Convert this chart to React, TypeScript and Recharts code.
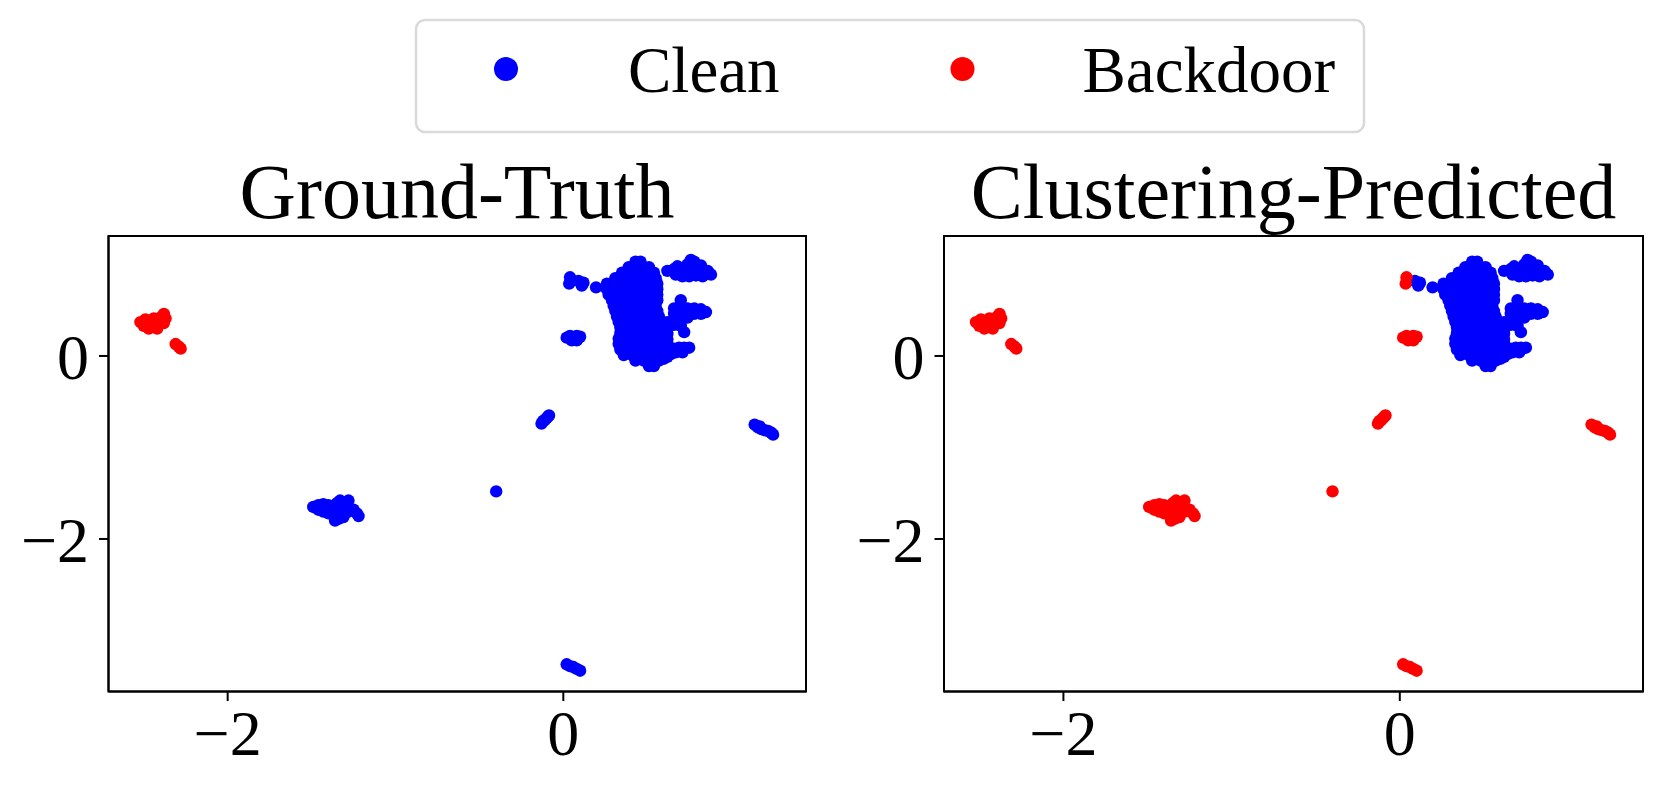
import { ScatterChart, Scatter, XAxis, YAxis, ReferenceArea } from "recharts";

const FONT = "'Liberation Serif', 'Times New Roman', serif";
const BLUE = "#0000ff";
const RED = "#ff0000";

// axis limits and ticks
const xDomain = [-2.71, 1.446];
const yDomain = [-3.667, 1.311];
const xTicks = [-2, 0];
const yTicks = [-2, 0];

const legendLabels = ["Clean", "Backdoor"];
const titles = ["Ground-Truth", "Clustering-Predicted"];

// clusters of the 2-D embedding, [x, y]
const redTopLeft: [number, number][] = [
  [-2.52, 0.37], [-2.5, 0.33], [-2.49, 0.4], [-2.47, 0.3], [-2.46, 0.37], [-2.44, 0.41],
  [-2.43, 0.33], [-2.41, 0.38], [-2.4, 0.42], [-2.38, 0.36], [-2.38, 0.46], [-2.37, 0.41],
  [-2.42, 0.3],
];
const redTail: [number, number][] = [[-2.31, 0.13], [-2.29, 0.1], [-2.28, 0.08]];

const topPairLeft: [number, number][] = [[0.04, 0.86], [0.035, 0.79]];
const topPairRight: [number, number][] = [[0.09, 0.82], [0.12, 0.8], [0.11, 0.77]];
const topSingle: [number, number][] = [[0.195, 0.75]];

const smallMid: [number, number][] = [
  [0.02, 0.2], [0.04, 0.22], [0.06, 0.19], [0.08, 0.22], [0.1, 0.21], [0.05, 0.17], [0.08, 0.17],
];

const mainBody: [number, number][] = [
  [0.43, 1.03], [0.46, 1.03],
  [0.39, 0.97], [0.43, 0.97], [0.47, 0.97], [0.51, 0.97],
  [0.35, 0.91], [0.4, 0.91], [0.45, 0.91], [0.5, 0.91], [0.54, 0.91],
  [0.31, 0.85], [0.36, 0.85], [0.41, 0.85], [0.46, 0.85], [0.51, 0.85], [0.55, 0.85],
  [0.26, 0.79], [0.32, 0.79], [0.37, 0.79], [0.42, 0.79], [0.47, 0.79], [0.52, 0.79], [0.56, 0.79],
  [0.26, 0.73], [0.32, 0.73], [0.37, 0.73], [0.42, 0.73], [0.47, 0.73], [0.52, 0.73], [0.56, 0.73],
  [0.27, 0.67], [0.33, 0.67], [0.38, 0.67], [0.43, 0.67], [0.48, 0.67], [0.53, 0.67], [0.56, 0.67],
  [0.29, 0.61], [0.34, 0.61], [0.39, 0.61], [0.44, 0.61], [0.49, 0.61], [0.54, 0.61], [0.56, 0.61],
  [0.3, 0.55], [0.35, 0.55], [0.4, 0.55], [0.45, 0.55], [0.5, 0.55], [0.55, 0.55],
  [0.31, 0.49], [0.36, 0.49], [0.41, 0.49], [0.46, 0.49], [0.51, 0.49], [0.56, 0.49],
  [0.32, 0.43], [0.37, 0.43], [0.42, 0.43], [0.47, 0.43], [0.52, 0.43], [0.57, 0.43],
  [0.33, 0.37], [0.38, 0.37], [0.43, 0.37], [0.48, 0.37], [0.53, 0.37], [0.58, 0.37], [0.62, 0.37],
  [0.34, 0.31], [0.39, 0.31], [0.44, 0.31], [0.49, 0.31], [0.54, 0.31], [0.59, 0.31], [0.62, 0.3],
  [0.34, 0.25], [0.39, 0.25], [0.44, 0.25], [0.49, 0.25], [0.54, 0.25], [0.58, 0.25], [0.62, 0.24],
  [0.33, 0.19], [0.38, 0.19], [0.43, 0.19], [0.48, 0.19], [0.53, 0.19], [0.58, 0.19], [0.62, 0.18],
  [0.33, 0.13], [0.38, 0.13], [0.43, 0.13], [0.48, 0.13], [0.53, 0.13], [0.58, 0.13], [0.62, 0.13],
  [0.34, 0.07], [0.39, 0.07], [0.44, 0.07], [0.49, 0.07], [0.54, 0.07], [0.59, 0.07], [0.63, 0.07],
  [0.36, 0.01], [0.41, 0.01], [0.46, 0.01], [0.51, 0.01], [0.56, 0.01], [0.6, 0.01],
  [0.43, -0.05], [0.48, -0.05], [0.53, -0.05], [0.57, -0.05], [0.6, -0.03],
  [0.51, -0.11], [0.54, -0.11],
];

const upperLobe: [number, number][] = [
  [0.62, 0.93], [0.66, 0.95], [0.68, 0.98], [0.67, 0.89], [0.71, 0.93], [0.71, 0.87],
  [0.74, 1.0], [0.76, 1.05], [0.75, 0.93], [0.75, 0.87], [0.78, 1.03], [0.79, 0.96],
  [0.79, 0.88], [0.82, 0.99], [0.83, 0.92], [0.83, 0.87], [0.86, 0.93], [0.88, 0.89],
];

const middleLobe: [number, number][] = [
  [0.7, 0.61], [0.66, 0.52], [0.7, 0.54], [0.74, 0.52], [0.78, 0.52], [0.82, 0.51],
  [0.85, 0.48], [0.66, 0.46], [0.7, 0.47], [0.74, 0.46], [0.78, 0.46], [0.82, 0.46],
  [0.66, 0.4], [0.7, 0.4], [0.74, 0.42], [0.66, 0.34], [0.7, 0.33], [0.72, 0.26],
];

const lowerLobe: [number, number][] = [
  [0.66, 0.08], [0.69, 0.09], [0.72, 0.09], [0.75, 0.09], [0.67, 0.04], [0.71, 0.04],
  [0.64, 0.02], [0.62, -0.01],
];

const diagSmall: [number, number][] = [
  [-0.13, -0.74], [-0.12, -0.71], [-0.11, -0.7], [-0.1, -0.68], [-0.09, -0.66], [-0.085, -0.65],
];

const rightStreak: [number, number][] = [
  [1.14, -0.75], [1.16, -0.78], [1.17, -0.77], [1.18, -0.8], [1.2, -0.81], [1.22, -0.82],
  [1.24, -0.84], [1.25, -0.86],
];

const lonePoint: [number, number][] = [[-0.4, -1.48]];

const leftBlob: [number, number][] = [
  [-1.49, -1.65], [-1.46, -1.63], [-1.46, -1.68], [-1.43, -1.62], [-1.43, -1.7], [-1.4, -1.63],
  [-1.4, -1.72], [-1.38, -1.66], [-1.37, -1.74], [-1.35, -1.61], [-1.35, -1.69], [-1.34, -1.78],
  [-1.33, -1.58], [-1.32, -1.66], [-1.31, -1.76], [-1.29, -1.62], [-1.28, -1.58], [-1.28, -1.7],
  [-1.25, -1.68], [-1.23, -1.72], [-1.22, -1.75], [-1.36, -1.8],
];

const bottomStreak: [number, number][] = [
  [0.02, -3.37], [0.04, -3.39], [0.06, -3.4], [0.08, -3.42], [0.1, -3.44],
];

const toPts = (...groups: [number, number][][]) =>
  groups.flat().map(([x, y]) => ({ x, y }));

const bigCluster = [mainBody, upperLobe, middleLobe, lowerLobe];

const truthClean = toPts(
  ...bigCluster, topPairLeft, topPairRight, topSingle, smallMid,
  diagSmall, rightStreak, lonePoint, leftBlob, bottomStreak
);
const truthBackdoor = toPts(redTopLeft, redTail);

const predClean = toPts(...bigCluster, topPairRight, topSingle);
const predBackdoor = toPts(
  redTopLeft, redTail, topPairLeft, smallMid, diagSmall, rightStreak,
  lonePoint, leftBlob, bottomStreak
);

const fmt = (v: number) => (v < 0 ? `\u2212${Math.abs(v)}` : `${v}`);

const dot = (color: string) => (p: any) => (
  <circle cx={p.cx} cy={p.cy} r={6.2} fill={color} />
);

function Panel({ left, width, mLeft, mRight, clean, backdoor }: any) {
  return (
    <div style={{ position: "absolute", left, top: 0 }}>
      <ScatterChart
        width={width}
        height={791}
        margin={{ top: 236, right: mRight, bottom: 9.5, left: mLeft }}
      >
        <XAxis
          type="number"
          dataKey="x"
          domain={xDomain}
          ticks={xTicks}
          allowDataOverflow
          height={90}
          tickFormatter={fmt}
          tick={{ fontSize: 64, fill: "#000", fontFamily: FONT }}
          tickLine={{ stroke: "#000", strokeWidth: 2 }}
          axisLine={{ stroke: "#000", strokeWidth: 2 }}
          tickSize={9.5}
          tickMargin={9}
        />
        <YAxis
          type="number"
          dataKey="y"
          domain={yDomain}
          ticks={yTicks}
          allowDataOverflow
          width={100}
          tickFormatter={fmt}
          tick={{ fontSize: 64, fill: "#000", fontFamily: FONT }}
          tickLine={{ stroke: "#000", strokeWidth: 2 }}
          axisLine={{ stroke: "#000", strokeWidth: 2 }}
          tickSize={9.5}
          tickMargin={10}
        />
        <ReferenceArea
          x1={xDomain[0]}
          x2={xDomain[1]}
          y1={yDomain[0]}
          y2={yDomain[1]}
          fill="none"
          stroke="#000"
          strokeWidth={2}
          ifOverflow="visible"
        />
        <Scatter data={clean} fill={BLUE} shape={dot(BLUE)} isAnimationActive={false} />
        <Scatter data={backdoor} fill={RED} shape={dot(RED)} isAnimationActive={false} />
      </ScatterChart>
    </div>
  );
}

export default function App() {
  return (
    <div
      style={{
        position: "absolute",
        left: 0,
        top: 0,
        width: 1661,
        height: 791,
        background: "#fff",
        overflow: "hidden",
      }}
    >
      <Panel left={0} width={830} mLeft={8.5} mRight={24} clean={truthClean} backdoor={truthBackdoor} />
      <Panel left={830} width={831} mLeft={14} mRight={18} clean={predClean} backdoor={predBackdoor} />
      <svg
        width={1661}
        height={791}
        style={{ position: "absolute", left: 0, top: 0, pointerEvents: "none" }}
        fontFamily={FONT}
      >
        <text x={457} y={218} fontSize={78} textAnchor="middle" fill="#000">
          {titles[0]}
        </text>
        <text x={1293.5} y={218} fontSize={78} textAnchor="middle" fill="#000">
          {titles[1]}
        </text>
        <rect x={416} y={20} width={948} height={112} rx={9} fill="#fff" stroke="#d9d9d9" strokeWidth={2.5} />
        <circle cx={506} cy={69} r={12} fill={BLUE} />
        <text x={628} y={92} fontSize={65} fill="#000">
          {legendLabels[0]}
        </text>
        <circle cx={962.5} cy={69} r={12} fill={RED} />
        <text x={1082.5} y={92} fontSize={65} fill="#000">
          {legendLabels[1]}
        </text>
      </svg>
    </div>
  );
}
